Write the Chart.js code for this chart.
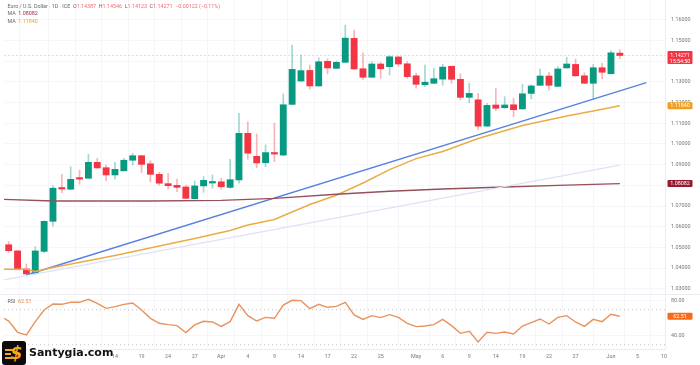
<!DOCTYPE html>
<html lang="en">
<head>
  <meta charset="UTF-8">
  <title>Euro / U.S. Dollar</title>
  <script src="https://cdn.jsdelivr.net/npm/chart.js@4/dist/chart.umd.min.js"></script>
  <style>
    html, body { margin: 0; padding: 0; background: #fff; }
    body { width: 700px; height: 365px; position: relative; overflow: hidden; font-family: Roboto, Arial, sans-serif; }
    canvas { position: absolute; left: 0; top: 0; filter: blur(0.35px); }
    .label { position: absolute; left: 7.5px; font-size: 5.35px; line-height: 7px; color: #666; white-space: pre; }
    .up { color: #ef6b75; }
    #logo { position: absolute; left: 2px; top: 341px; width: 24px; height: 24px; background: #0b0b0b; border-radius: 3px;
      color: #f6a81c; font: italic bold 17px/24px "DejaVu Sans", sans-serif; text-align: center; text-indent: 5px; }
    #logo i { position: absolute; left: 3px; height: 1.5px; background: #f6a81c; }
    #site { position: absolute; left: 29px; top: 345px; font: bold 11px/15px "DejaVu Sans", sans-serif; color: #111; }
  </style>
</head>
<body>
  <canvas id="chart" width="700" height="365"></canvas>
  <div class="label" style="top:2.5px">Euro / U.S. Dollar · 1D · ICE  O<span class="up">1.14387</span>  H<span class="up">1.14546</span>  L<span class="up">1.14123</span>  C<span class="up">1.14271</span>  <span class="up">−0.00122 (−0.11%)</span></div>
  <div class="label" style="top:10px">MA  <span style="color:#9a2a3a">1.08082</span></div>
  <div class="label" style="top:17.5px">MA  <span style="color:#e8a32e">1.11840</span></div>
  <div class="label" style="top:297.5px">RSI  <span style="color:#e8894a">62.51</span></div>
  <div id="logo"><i style="top:8px;width:8px"></i><i style="top:12px;width:6px"></i><i style="top:16px;width:7px"></i>$</div>
  <div id="site">Santygia.com</div>

  <script>
    const opens = [1.0513, 1.0483, 1.0396, 1.0375, 1.0481, 1.0626, 1.0787, 1.0781, 1.0835, 1.0834,
      1.0911, 1.0885, 1.0850, 1.0870, 1.0921, 1.0943, 1.0904, 1.0853, 1.0808, 1.0800,
      1.0792, 1.0735, 1.0797, 1.0811, 1.0817, 1.0790, 1.0826, 1.1051, 1.0940, 1.0909,
      1.0958, 1.0946, 1.1191, 1.1304, 1.1355, 1.1280, 1.1399, 1.1365, 1.1394, 1.1510,
      1.1363, 1.1322, 1.1386, 1.1373, 1.1420, 1.1387, 1.1329, 1.1286, 1.1293, 1.1313,
      1.1375, 1.1312, 1.1225, 1.1213, 1.1086, 1.1188, 1.1175, 1.1189, 1.1169, 1.1244,
      1.1283, 1.1328, 1.1278, 1.1367, 1.1384, 1.1329, 1.1293, 1.1368, 1.1339, 1.14387];
    const closes = [1.0484, 1.0394, 1.0372, 1.0483, 1.0626, 1.0786, 1.0782, 1.0829, 1.0830, 1.0911,
      1.0884, 1.0850, 1.0877, 1.0921, 1.0943, 1.0901, 1.0853, 1.0810, 1.0798, 1.0790,
      1.0737, 1.0797, 1.0824, 1.0817, 1.0793, 1.0827, 1.1051, 1.0955, 1.0908, 1.0958,
      1.0951, 1.1189, 1.1360, 1.1354, 1.1280, 1.1397, 1.1367, 1.1394, 1.1511, 1.1362,
      1.1322, 1.1386, 1.1363, 1.1421, 1.1386, 1.1325, 1.1288, 1.1298, 1.1315, 1.1371,
      1.1312, 1.1225, 1.1244, 1.1086, 1.1186, 1.1172, 1.1188, 1.1165, 1.1242, 1.1280,
      1.1328, 1.1283, 1.1362, 1.1386, 1.1329, 1.1293, 1.1368, 1.1346, 1.1440, 1.14271];
    const highs = [1.0528, 1.0486, 1.0420, 1.0503, 1.0628, 1.0797, 1.0853, 1.0890, 1.0874, 1.0950,
      1.0930, 1.0898, 1.0911, 1.0930, 1.0955, 1.0944, 1.0919, 1.0863, 1.0858, 1.0830,
      1.0801, 1.0821, 1.0842, 1.0850, 1.0834, 1.0926, 1.1148, 1.1107, 1.1048, 1.0995,
      1.1100, 1.1241, 1.1478, 1.1429, 1.1381, 1.1416, 1.1410, 1.1400, 1.1574, 1.1550,
      1.1440, 1.1397, 1.1394, 1.1426, 1.1423, 1.1397, 1.1341, 1.1381, 1.1365, 1.1384,
      1.1376, 1.1338, 1.1294, 1.1244, 1.1196, 1.1267, 1.1228, 1.1220, 1.1288, 1.1286,
      1.1362, 1.1346, 1.1373, 1.1418, 1.1409, 1.1344, 1.1384, 1.1389, 1.1450, 1.14546];
    const lows = [1.0476, 1.0391, 1.0367, 1.0372, 1.0475, 1.0603, 1.0764, 1.0780, 1.0806, 1.0833,
      1.0882, 1.0822, 1.0830, 1.0869, 1.0898, 1.0861, 1.0817, 1.0801, 1.0782, 1.0769,
      1.0736, 1.0734, 1.0766, 1.0786, 1.0781, 1.0786, 1.0810, 1.0926, 1.0885, 1.0890,
      1.0914, 1.0944, 1.1190, 1.1300, 1.1264, 1.1278, 1.1338, 1.1364, 1.1393, 1.1360,
      1.1312, 1.1321, 1.1317, 1.1333, 1.1376, 1.1317, 1.1269, 1.1276, 1.1292, 1.1284,
      1.1293, 1.1212, 1.1199, 1.1070, 1.1085, 1.1160, 1.1172, 1.1131, 1.1167, 1.1218,
      1.1281, 1.1260, 1.1277, 1.1365, 1.1325, 1.1291, 1.1215, 1.1315, 1.1338, 1.14123];

    const rsiValues = [57.1, 44.2, 41.1, 56.4, 69.7, 76.6, 76.2, 78.5, 78.5, 81.9,
      77.3, 71.6, 73.5, 76.2, 77.7, 69.7, 60.2, 54.5, 53, 51.8,
      43.8, 52.6, 56.8, 56, 51, 56.4, 76.2, 63.2, 57.1, 61.3,
      60.2, 75.4, 80.8, 80.4, 71.2, 76.2, 72.8, 73.9, 78.5, 64,
      59, 63.2, 61, 64.4, 61.3, 54.5, 50.7, 51.4, 53, 59,
      51.8, 43, 45.3, 33.1, 44.2, 43, 44.6, 42.3, 51.4, 55.2,
      59.4, 53.7, 61.3, 63.2, 56, 51, 59, 56.4, 64.8, 62.51];

    // moving averages, read at the candle numbers in the Idx lists
    const ma200Idx = [-0.53, 5, 16, 24, 30, 37, 43, 49, 56, 63, 69];
    const ma200Vals = [1.0732, 1.0724, 1.0724, 1.0727, 1.0737, 1.0757, 1.0771, 1.0782, 1.0792, 1.0801, 1.08082];
    const ma50Idx = [-0.53, 2, 3, 5, 12, 17, 21, 25, 27, 30, 34, 37, 40, 43, 46, 49, 53, 58, 63, 66, 69];
    const ma50Vals = [1.0394, 1.0394, 1.0384, 1.0403, 1.0461, 1.0507, 1.0543, 1.0582, 1.0608, 1.0635, 1.0707,
      1.0752, 1.0811, 1.0876, 1.0929, 1.0963, 1.1026, 1.1089, 1.1135, 1.1159, 1.1184];

    // hand drawn trend lines, two ends each
    const blueTrendIdx = [2, 72];
    const blueTrendVals = [1.0367, 1.1296];
    const paleTrendIdx = [-0.53, 69];
    const paleTrendVals = [1.0343, 1.0898];

    const xMin = -0.53;
    const xMax = 74.1;
    const xTickIdx = [xMin, 3, 6, 9, 12, 15, 18, 21, 24, 27, 30, 33, 36, 39, 42, 46, 49, 52, 55, 58, 61, 64, 68, 71, 74];
    const xTickLabels = ['', '', '', '', '14', '19', '24', '27', 'Apr', '4', '9', '14', '17', '22', '25', 'May', '6', '9', '14', '19', '22', '27', 'Jun', '5', '10'];
    const priceTicks = [1.03, 1.04, 1.05, 1.06, 1.07, 1.08, 1.09, 1.10, 1.11, 1.12, 1.13, 1.14, 1.15, 1.16];
    const hiddenPriceTicks = [1.08, 1.14]; // sit under the badges
    const rsiTicks = [40, 80];
    const rsiBands = [70, 30];

    const lastClose = closes[closes.length - 1];
    const lastMa200 = ma200Vals[ma200Vals.length - 1];
    const lastMa50 = ma50Vals[ma50Vals.length - 1];
    const lastRsi = rsiValues[rsiValues.length - 1];

    const GREEN = '#089981';
    const RED = '#f23645';
    const isUp = i => closes[i] >= opens[i];
    const pairs = (xs, ys) => xs.map((x, i) => ({ x, y: ys[i] }));

    function lineSet(data, color, extra) {
      return Object.assign({
        type: 'line', data, borderColor: color, borderWidth: 1, pointRadius: 0,
        tension: 0, yAxisID: 'y', order: 1, fill: false
      }, extra);
    }

    const wickData = highs.map((h, i) => ({ x: i, y: [lows[i], h] }));
    const bodyData = opens.map((o, i) => ({ x: i, y: [Math.min(o, closes[i]), Math.max(o, closes[i])] }));
    const rsiData = [{ x: xMin, y: 60.2 }].concat(rsiValues.map((v, i) => ({ x: i, y: v })));

    // right axes: fixed width, and no extra room asked for the end labels
    function fitRightAxis(scale) {
      scale.width = 35;
      scale.paddingTop = 0;
      scale.paddingBottom = 0;
    }

    // price and rsi badges on the right axis
    const badgePlugin = {
      id: 'badges',
      afterDraw(chart) {
        const { ctx, scales } = chart;
        const badges = [
          { axis: 'y', value: lastClose, color: RED, lines: [lastClose.toFixed(5), '15:54:50'], up: 4.5, down: 8.5 },
          { axis: 'y', value: lastMa50, color: '#f0a020', lines: [lastMa50.toFixed(5)], up: 3.5, down: 3.5 },
          { axis: 'y', value: lastMa200, color: '#931c31', lines: [lastMa200.toFixed(5)], up: 3.5, down: 3.5 },
          { axis: 'rsi', value: lastRsi, color: '#f76b1c', lines: [lastRsi.toFixed(2)], up: 3.5, down: 3.5 }
        ];
        ctx.save();
        ctx.font = '5.4px Roboto, Arial, sans-serif';
        ctx.textAlign = 'center';
        ctx.textBaseline = 'middle';
        badges.forEach(b => {
          const py = scales[b.axis].getPixelForValue(b.value);
          ctx.fillStyle = b.color;
          ctx.beginPath();
          ctx.roundRect(667.5, py - b.up, 25, b.up + b.down, 1);
          ctx.fill();
          ctx.fillStyle = '#fff';
          b.lines.forEach((t, n) => ctx.fillText(t, 680, py + n * 6.3));
        });
        // divider between price and rsi panels
        ctx.strokeStyle = '#ececf2';
        ctx.beginPath();
        ctx.moveTo(0, scales.rsi.top + 0.5);
        ctx.lineTo(chart.width, scales.rsi.top + 0.5);
        ctx.stroke();
        ctx.restore();
      }
    };

    const tickFont = { family: 'Roboto, Arial, sans-serif', size: 5.4 };
    const gridColor = '#f5f5fa';

    new Chart(document.getElementById('chart'), {
      type: 'bar',
      data: {
        datasets: [
          {
            data: wickData, barThickness: 1, grouped: false, order: 3, yAxisID: 'y',
            backgroundColor: ctx => (isUp(ctx.dataIndex) ? 'rgba(8,153,129,0.38)' : 'rgba(242,54,69,0.38)')
          },
          {
            data: bodyData, barThickness: 6.2, grouped: false, order: 2, yAxisID: 'y', minBarLength: 1.5,
            backgroundColor: ctx => (isUp(ctx.dataIndex) ? GREEN : RED)
          },
          lineSet(pairs([xMin, xMax], [lastClose, lastClose]), 'rgba(242,54,69,0.22)', { borderDash: [2, 2] }),
          lineSet(pairs(paleTrendIdx, paleTrendVals), '#dfe1f5', { borderWidth: 1.3 }),
          lineSet(pairs(ma200Idx, ma200Vals), '#96505c', { borderWidth: 1.4 }),
          lineSet(pairs(ma50Idx, ma50Vals), '#e9ad45', { borderWidth: 1.5 }),
          lineSet(pairs(blueTrendIdx, blueTrendVals), '#5b82e0', { borderWidth: 1.5 }),
          lineSet(rsiData, '#e8935c', { yAxisID: 'rsi', borderWidth: 1.4 }),
          lineSet(pairs([xMin, xMax], [rsiBands[0], rsiBands[0]]), '#c4c4c4', { yAxisID: 'rsi', borderDash: [1, 3] }),
          lineSet(pairs([xMin, xMax], [rsiBands[1], rsiBands[1]]), '#c4c4c4', { yAxisID: 'rsi', borderDash: [1, 3] })
        ]
      },
      options: {
        responsive: false,
        animation: false,
        events: [],
        layout: { padding: { left: 4, top: 0, right: 0, bottom: 0 } },
        plugins: { legend: { display: false }, tooltip: { enabled: false } },
        scales: {
          x: {
            type: 'linear', min: xMin, max: xMax, offset: false,
            grid: { color: gridColor, drawTicks: false },
            border: { color: '#ececf2' },
            afterBuildTicks: scale => { scale.ticks = xTickIdx.map(value => ({ value })); },
            afterFit: scale => { scale.height = 16; scale.paddingRight = 0; scale.paddingLeft = 0; },
            ticks: {
              autoSkip: false, maxRotation: 0, padding: 4, color: '#777', font: tickFont,
              callback: value => xTickLabels[xTickIdx.indexOf(value)]
            }
          },
          y: {
            position: 'right', stack: 'panels', stackWeight: 294, min: 1.02749, max: 1.16952,
            grid: { color: gridColor, drawTicks: false },
            border: { color: '#ececf2' },
            afterBuildTicks: scale => { scale.ticks = priceTicks.map(value => ({ value })); },
            afterFit: fitRightAxis,
            ticks: {
              autoSkip: false, padding: 6, color: '#777', font: tickFont,
              callback: value => (hiddenPriceTicks.includes(value) ? '' : value.toFixed(5))
            }
          },
          rsi: {
            position: 'right', stack: 'panels', stackWeight: 55, min: 25.1, max: 88,
            grid: { color: gridColor, drawTicks: false },
            border: { color: '#ececf2' },
            afterBuildTicks: scale => { scale.ticks = rsiTicks.map(value => ({ value })); },
            afterFit: fitRightAxis,
            ticks: {
              autoSkip: false, padding: 6, color: '#777', font: tickFont,
              callback: value => value.toFixed(2)
            }
          }
        }
      },
      plugins: [badgePlugin]
    });
  </script>
</body>
</html>
